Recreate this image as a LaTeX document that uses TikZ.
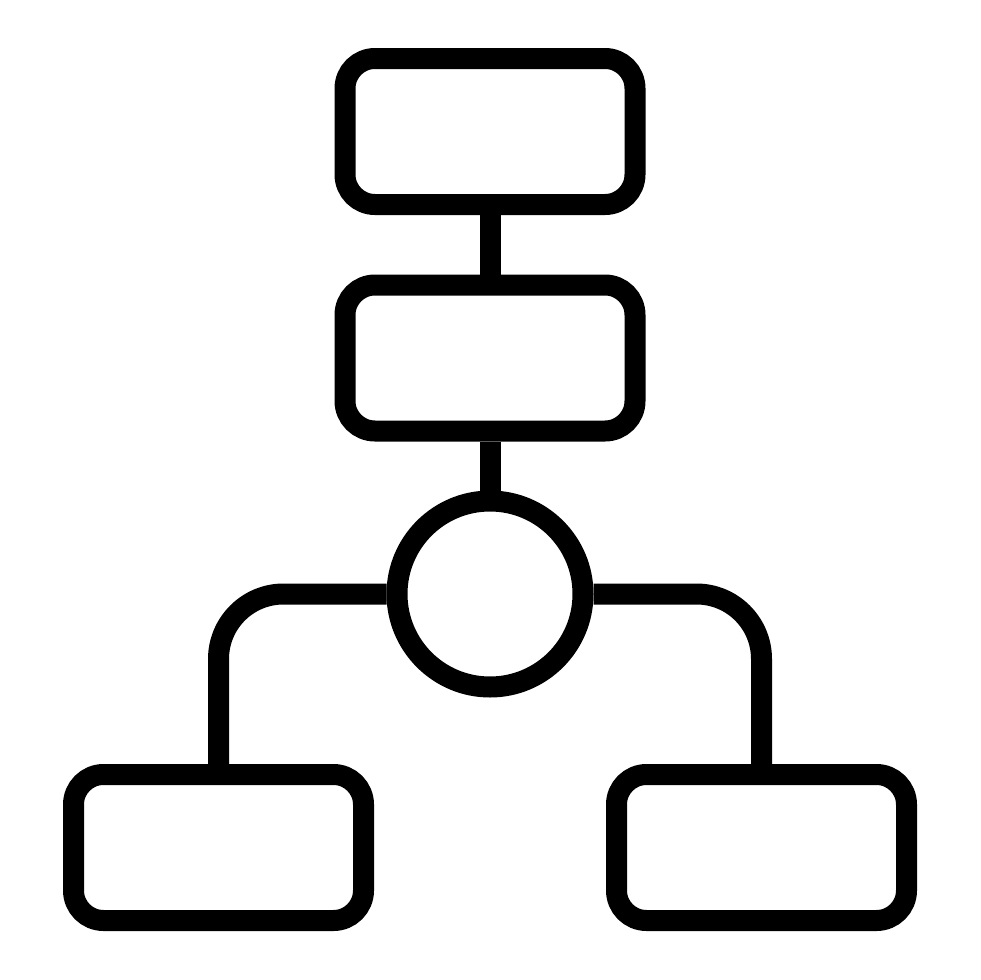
\documentclass[tikz,border=0pt]{standalone}
\begin{document}
\begin{tikzpicture}[x=1pt,y=-1pt,
  boxnode/.style={draw=black, line width=21pt, rounded corners=30pt, minimum width=290pt, minimum height=146pt, inner sep=0pt},
  hubnode/.style={draw=black, line width=21pt, circle, minimum size=186pt, inner sep=0pt},
  link/.style={draw=black, line width=21pt}]
\fill[white] (0,0) rectangle (980,980);
\useasboundingbox (0,0) rectangle (980,980);
\node[boxnode] (top) at (490,131.5) {};
\node[boxnode] (mid) at (490,358) {};
\node[hubnode] (hub) at (490,594) {};
\node[boxnode] (bl) at (218.5,847.5) {};
\node[boxnode] (br) at (761.5,847.5) {};
\draw[link] (top.south) -- (mid.north);
\draw[link] (mid.south) -- (hub.north);
\draw[link, rounded corners=65pt] (hub.west) -| (bl.north);
\draw[link, rounded corners=65pt] (hub.east) -| (br.north);
\end{tikzpicture}
\end{document}
